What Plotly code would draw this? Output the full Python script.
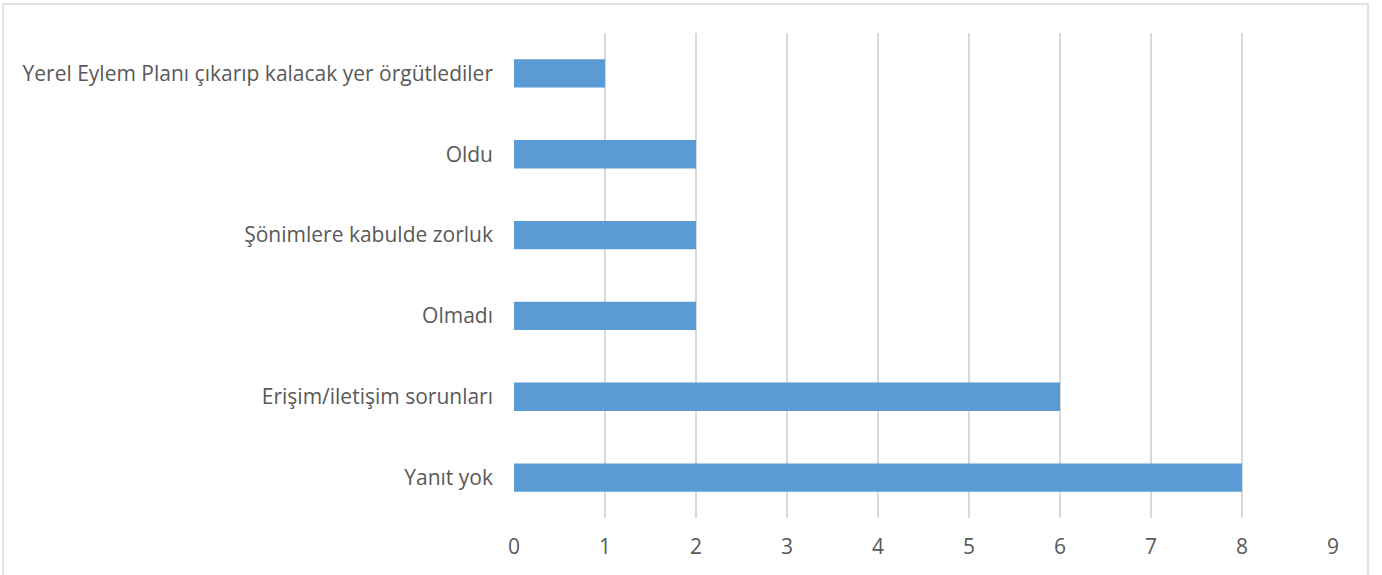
import plotly.graph_objects as go

categories = [
    "Yanıt yok",
    "Erişim/iletişim sorunları",
    "Olmadı",
    "Şönimlere kabulde zorluk",
    "Oldu",
    "Yerel Eylem Planı çıkarıp kalacak yer örgütlediler",
]
values = [8, 6, 2, 2, 2, 1]
x_ticks = [0, 1, 2, 3, 4, 5, 6, 7, 8, 9]

W, H = 1382, 575
left, right, top, bottom = 514, 1333, 33, 518

fig = go.Figure(go.Bar(
    x=values, y=categories, orientation="h",
    marker=dict(color="#5B9BD5", line=dict(width=0)),
    width=0.35,
))

font = dict(family="Open Sans, Liberation Sans, sans-serif", size=21, color="#595959")

fig.update_layout(
    width=W, height=H,
    margin=dict(l=left, r=W - right, t=top, b=H - bottom, autoexpand=False),
    paper_bgcolor="white", plot_bgcolor="white",
    font=font,
    showlegend=False,
    xaxis=dict(range=[0, 9], tickvals=x_ticks, showgrid=True, gridcolor="#D9D9D9",
               gridwidth=1.5, zeroline=False, showline=False, ticks="",
               ticklabelstandoff=14, tickfont=font, fixedrange=True),
    yaxis=dict(categoryorder="array", categoryarray=categories, showgrid=False,
               zeroline=False, showline=False, ticks="", ticklabelstandoff=20,
               tickfont=font, fixedrange=True),
    shapes=[dict(type="rect", xref="paper", yref="paper",
                 x0=(3 - left) / (right - left), x1=(1368 - left) / (right - left),
                 y0=(bottom - 700) / (bottom - top), y1=(bottom - 4) / (bottom - top),
                 line=dict(color="#D9D9D9", width=1.5), fillcolor="rgba(0,0,0,0)",
                 layer="below")],
)

fig.write_html("out.html", config={"displayModeBar": False},
               post_script="document.body.style.margin='0';")
